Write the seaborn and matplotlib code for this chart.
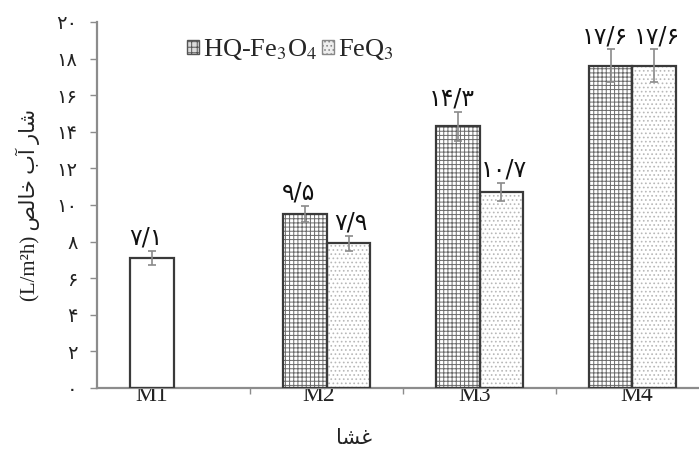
import numpy as np
import pandas as pd
import matplotlib
matplotlib.use("Agg")
import matplotlib.pyplot as plt
from matplotlib.patches import Rectangle, Patch
from matplotlib.ticker import FixedLocator
import seaborn as sns

# ---------------- data ----------------
membranes = ["M1", "M2", "M3", "M4"]
series = ["HQ-Fe$_3$O$_4$", "FeQ$_3$"]
flux_hq = [7.1, 9.5, 14.3, 17.6]
flux_feq = [np.nan, 7.9, 10.7, 17.6]
err_hq = [0.4, 0.45, 0.8, 0.9]
err_feq = [np.nan, 0.4, 0.5, 0.9]
labels_hq = ["۷/۱", "۹/۵", "۱۴/۳", "۱۷/۶"]
labels_feq = [None, "۷/۹", "۱۰/۷", "۱۷/۶"]
ytick_vals = [0, 2, 4, 6, 8, 10, 12, 14, 16, 18, 20]
ytick_labels = ["۰", "۲", "۴", "۶", "۸", "۱۰", "۱۲", "۱۴", "۱۶", "۱۸", "۲۰"]
ylabel_text = "(L/m²h) ﺺﻟﺎﺧ ﺏﺁ ﺭﺎﺷ"   # visual order of "شار آب خالص (L/m²h)"
xlabel_text = "ﺎﺸﻏ"                     # visual order of "غشا"

df = pd.DataFrame({
    "membrane": membranes * 2,
    "series": [series[0]] * 4 + [series[1]] * 4,
    "flux": flux_hq + flux_feq,
})

# ---------------- style ----------------
sns.set_theme(style="white")
plt.rcParams["font.family"] = ["Liberation Serif", "DejaVu Sans"]
plt.rcParams["mathtext.fontset"] = "stix"
plt.rcParams["hatch.linewidth"] = 0.7

fig = plt.figure(figsize=(6.99, 4.55), dpi=100)
ax = fig.add_axes([0.1388, 0.1473, 0.8755, 0.8044])

sns.barplot(data=df, x="membrane", y="flux", hue="series", order=membranes,
            hue_order=series, width=0.575, errorbar=None, legend=False, ax=ax)

hq_style = dict(facecolor="white", edgecolor="#6a6a6a", hatch="++++")
feq_style = dict(facecolor="white", edgecolor="#b8b8b8", hatch="....")
m1_style = dict(facecolor="white", edgecolor="white", hatch=None)

values = {0: flux_hq, 1: flux_feq}
errs = {0: err_hq, 1: err_feq}
texts = {0: labels_hq, 1: labels_feq}
styles = {0: hq_style, 1: feq_style}
label_shift = {0: -4, 1: 2}

for si, cont in enumerate(ax.containers[:2]):
    for bar in cont:
        h = bar.get_height()
        if h is None or np.isnan(h) or h == 0:
            continue
        xc = bar.get_x() + bar.get_width() / 2
        ci = int(round(xc))
        st = m1_style if ci == 0 else styles[si]
        bar.set_facecolor(st["facecolor"])
        bar.set_edgecolor(st["edgecolor"])
        bar.set_hatch(st["hatch"])
        bar.set_linewidth(0)
        ax.add_patch(Rectangle(bar.get_xy(), bar.get_width(), h, fill=False,
                               edgecolor="#3a3a3a", linewidth=1.6, zorder=3))
        e = errs[si][ci]
        ax.errorbar(xc, values[si][ci], yerr=e, color="#8a8a8a", capsize=3,
                    elinewidth=1.2, capthick=1.2, zorder=4)
        ax.annotate(texts[si][ci], (xc, values[si][ci] + e),
                    xytext=(label_shift[si], 1),
                    textcoords="offset points", ha="center", va="bottom",
                    fontsize=17, family=["DejaVu Sans"], color="#111")

# ---------------- axes ----------------
ax.set_xlim(-0.5, 3.5)
ax.set_ylim(0, 20)
for s in ["top", "right"]:
    ax.spines[s].set_visible(False)
for s in ["left", "bottom"]:
    ax.spines[s].set_color("#8c8c8c")
    ax.spines[s].set_linewidth(1.6)

ax.set_yticks(ytick_vals)
ax.set_yticklabels(ytick_labels, family=["DejaVu Sans"], fontsize=14, color="#222")
ax.tick_params(axis="y", direction="out", length=5, width=1, color="#8c8c8c",
               pad=9, left=True)

ax.set_xticks([-0.14, 0.95, 1.97, 3.03])
ax.set_xticklabels(membranes, fontsize=17, color="#222")
ax.tick_params(axis="x", which="major", length=0, pad=-2)
ax.xaxis.set_minor_locator(FixedLocator([0.5, 1.5, 2.5]))
ax.tick_params(axis="x", which="minor", direction="out", length=4, width=1,
               color="#8c8c8c", bottom=True)

ax.set_ylabel(ylabel_text, fontsize=15, color="#222",
              family=["Liberation Serif", "DejaVu Sans"])
ax.yaxis.set_label_coords(-0.093, 0.5)
ax.set_xlabel(xlabel_text, fontsize=15, color="#222",
              family=["DejaVu Sans"])
ax.xaxis.set_label_coords(0.42, -0.11)

handles = [Patch(facecolor="#dcdcdc", edgecolor="#555", hatch="+++", linewidth=1),
           Patch(facecolor="#eeeeee", edgecolor="#888", hatch="....", linewidth=1)]
leg = ax.legend(handles, series, loc="upper left", bbox_to_anchor=(0.125, 0.995),
                ncol=2, frameon=False, fontsize=19, handlelength=0.45,
                handleheight=0.45, handletextpad=0.15, columnspacing=0.2,
                borderpad=0)

fig.savefig("out.png", dpi=100)
